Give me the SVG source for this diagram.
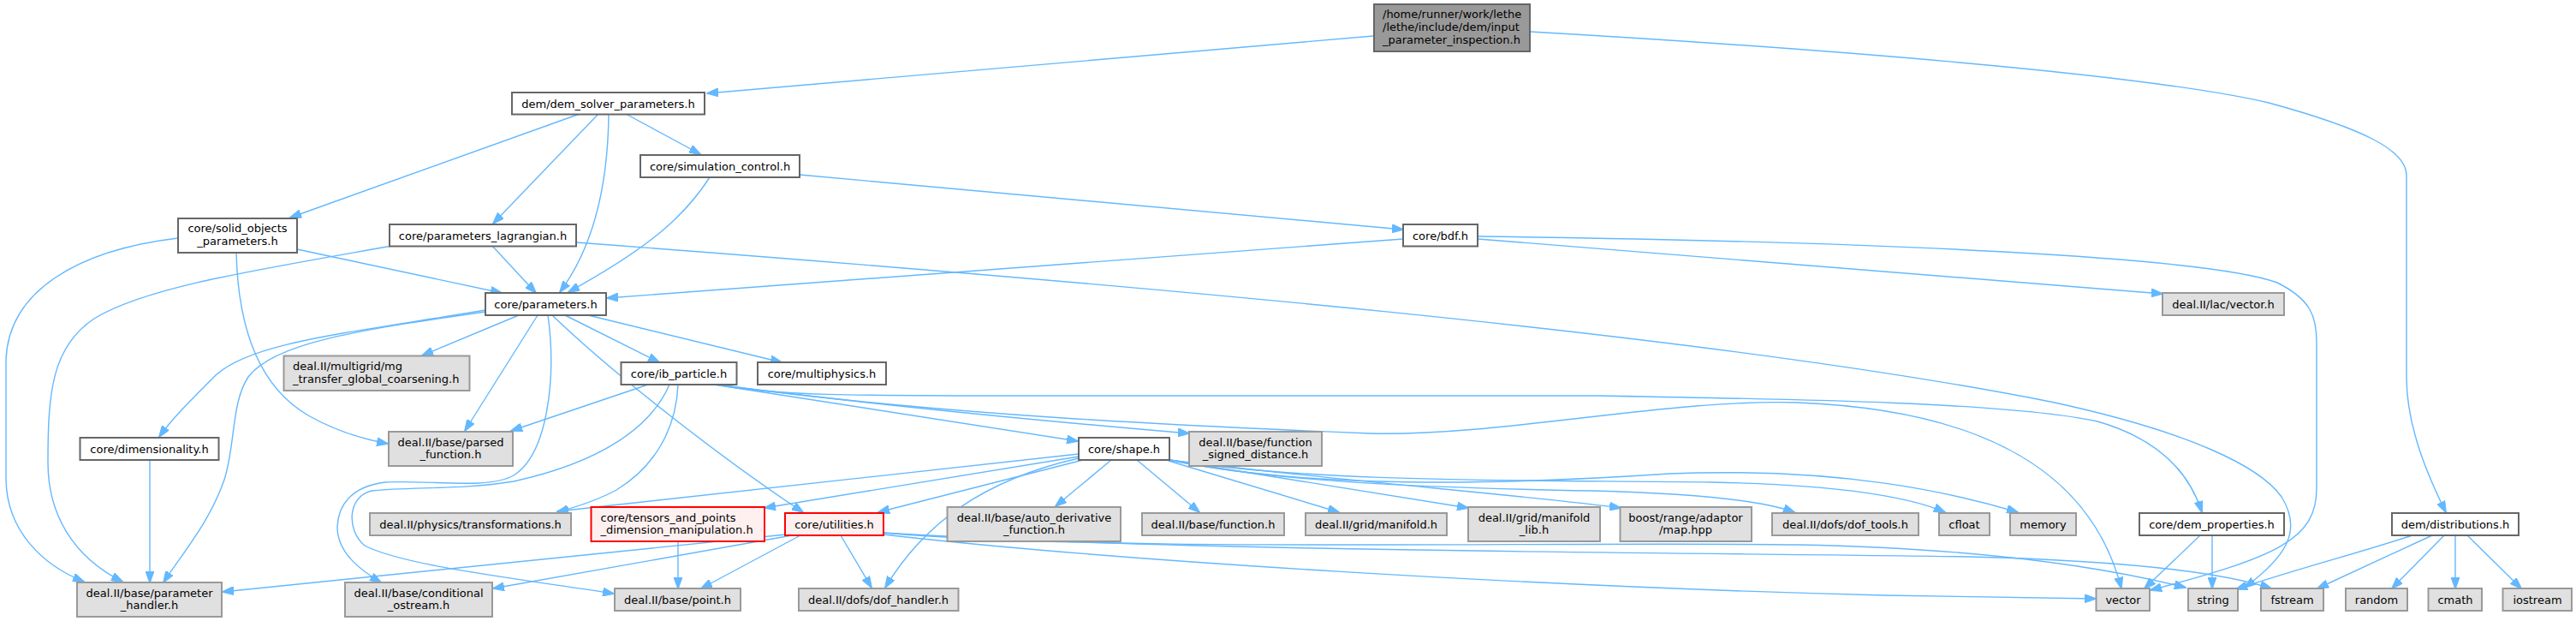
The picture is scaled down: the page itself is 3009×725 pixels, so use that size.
<svg xmlns="http://www.w3.org/2000/svg" width="3009" height="725" viewBox="0 0 3009 725">
<style>
  .bg { fill: #ffffff; }
  .n rect { fill: #ffffff; stroke: #666666; stroke-width: 2; }
  .g rect { fill: #e0e0e0; stroke: #999999; stroke-width: 2; }
  .r rect { fill: #fff0f0; stroke: #ff0000; stroke-width: 2; }
  .root rect { fill: #999999; stroke: #666666; stroke-width: 2; }
  text { font-family: "DejaVu Sans", "Liberation Sans", sans-serif; font-size: 13px; fill: #000000; text-anchor: middle; }
  text.l { text-anchor: start; }
  #edges path { fill: none; stroke: #63b8ff; stroke-width: 1.4; marker-end: url(#arr); }
</style>
<defs>
  <marker id="arr" viewBox="0 0 14 10" refX="13" refY="5" markerWidth="14" markerHeight="10" markerUnits="userSpaceOnUse" orient="auto">
    <path d="M0,0 L14,5 L0,10 z" fill="#63b8ff" stroke="#63b8ff" stroke-width="1"/>
  </marker>
</defs>
<rect class="bg" x="0" y="0" width="3009" height="725"/>

<g id="edges">
  <path d="M1604,42 L826,109"/>
  <path d="M1787,37 C2100,55 2500,85 2650,120 C2760,150 2811,175 2811,205 L2811,440 C2811,500 2838,560 2857,598"/>
  <path d="M677,133 L339,254"/>
  <path d="M699,133 L576,261"/>
  <path d="M711,134 C710,220 692,290 654,341"/>
  <path d="M731,133 L818,180"/>
  <path d="M208,278 C90,292 10,340 7,420 L7,560 C8,620 50,660 98,679"/>
  <path d="M276,295 C278,380 300,450 360,485 C390,502 420,512 453,518"/>
  <path d="M347,291 L586,342"/>
  <path d="M575,287 L626,342"/>
  <path d="M458,287 C300,315 170,335 110,372 C60,405 56,460 56,540 C56,600 85,650 143,679"/>
  <path d="M673,283 C1300,330 2000,390 2400,470 C2560,505 2640,545 2665,580 C2690,620 2670,650 2622,686"/>
  <path d="M829,207 C800,252 760,288 664,341"/>
  <path d="M934,204 L1639,268"/>
  <path d="M1639,279 L709,348"/>
  <path d="M1726,279 L2526,343"/>
  <path d="M1726,276 C2200,282 2580,300 2660,330 C2700,350 2706,370 2706,400 L2706,570 C2706,630 2660,650 2512,689"/>
  <path d="M567,362 C400,390 290,400 250,440 C220,470 200,490 186,510"/>
  <path d="M567,364 C420,385 320,400 290,440 C270,470 275,520 262,560 C245,610 210,650 191,680"/>
  <path d="M606,368 L493,415"/>
  <path d="M628,368 L543,503"/>
  <path d="M640,368 C650,440 640,530 600,555 C570,572 500,560 450,563 C410,568 395,590 394,615 C394,645 420,665 445,680"/>
  <path d="M645,368 C720,440 850,540 938,598"/>
  <path d="M660,368 L770,423"/>
  <path d="M683,367 L913,423"/>
  <path d="M175,537 L175,680"/>
  <path d="M757,449 L597,503"/>
  <path d="M792,449 C790,500 765,545 720,572 C700,583 680,590 651,598"/>
  <path d="M782,449 C760,500 700,540 600,562 C540,572 480,568 434,573 C405,580 405,620 426,637 C470,660 600,675 717,693"/>
  <path d="M834,449 L1259,515"/>
  <path d="M837,449 C1000,470 1200,490 1389,506"/>
  <path d="M837,449 C900,462 1000,462 1200,462 L1868,462 C2100,466 2350,470 2450,492 C2530,515 2560,560 2572,598"/>
  <path d="M837,449 C1100,485 1400,498 1600,506 C1750,510 1950,465 2100,470 C2300,478 2440,540 2478,687"/>
  <path d="M1260,530 L651,597"/>
  <path d="M1260,533 L893,593"/>
  <path d="M1265,537 L1026,598"/>
  <path d="M1260,535 C1150,560 1080,610 1034,686"/>
  <path d="M1298,537 L1233,591"/>
  <path d="M1328,537 L1401,598"/>
  <path d="M1365,538 L1564,598"/>
  <path d="M1366,537 L1715,593"/>
  <path d="M1366,537 C1550,560 1800,580 1893,593"/>
  <path d="M1366,537 C1500,565 1700,570 1860,573 C1980,576 2060,585 2096,598"/>
  <path d="M1366,537 C1550,565 1800,560 2000,563 C2150,566 2230,580 2272,598"/>
  <path d="M1366,537 C1500,565 1700,570 1950,553 C2150,545 2280,575 2357,598"/>
  <path d="M918,624 L260,691"/>
  <path d="M925,625 L576,687"/>
  <path d="M935,625 L819,687"/>
  <path d="M982,625 L1018,686"/>
  <path d="M1032,622 C1300,645 1800,632 2100,636 C2300,640 2450,660 2553,686"/>
  <path d="M1032,622 C1400,645 2000,645 2300,650 C2500,655 2600,670 2653,687"/>
  <path d="M1032,624 C1300,655 1800,685 2200,695 L2448,699"/>
  <path d="M792,632 L792,687"/>
  <path d="M2570,625 L2505,687"/>
  <path d="M2584,625 L2584,687"/>
  <path d="M2818,625 C2740,650 2680,665 2612,688"/>
  <path d="M2841,625 L2707,687"/>
  <path d="M2855,625 L2794,687"/>
  <path d="M2868,625 L2868,687"/>
  <path d="M2882,625 L2945,687"/>
</g>

<g id="node-root" class="root"><rect x="1605" y="5" width="182" height="55"/>
  <text class="l" x="1615" y="21">/home/runner/work/lethe</text>
  <text class="l" x="1615" y="36">/lethe/include/dem/input</text>
  <text class="l" x="1615" y="50.5">_parameter_inspection.h</text></g>
<g id="node-dem-solver-parameters" class="n"><rect x="598" y="108" width="225" height="25.5"/><text x="710.5" y="125.5">dem/dem_solver_parameters.h</text></g>
<g id="node-solid-objects" class="n"><rect x="208" y="255" width="139" height="40"/><text x="277.5" y="271">core/solid_objects</text><text x="277.5" y="285.5">_parameters.h</text></g>
<g id="node-parameters-lagrangian" class="n"><rect x="455" y="262" width="218" height="25.5"/><text x="564" y="279.5">core/parameters_lagrangian.h</text></g>
<g id="node-parameters" class="n"><rect x="567" y="342" width="141" height="26"/><text x="637.5" y="359.5">core/parameters.h</text></g>
<g id="node-simulation-control" class="n"><rect x="748" y="181" width="186" height="26"/><text x="841" y="198.5">core/simulation_control.h</text></g>
<g id="node-bdf" class="n"><rect x="1639" y="262" width="87" height="25.5"/><text x="1682.5" y="279.5">core/bdf.h</text></g>
<g id="node-lac-vector" class="g"><rect x="2526" y="342" width="142" height="26"/><text x="2597" y="359.5">deal.II/lac/vector.h</text></g>
<g id="node-mg-transfer" class="g"><rect x="331.5" y="415.5" width="217" height="40.5"/><text class="l" x="342" y="432">deal.II/multigrid/mg</text><text class="l" x="342" y="446.5">_transfer_global_coarsening.h</text></g>
<g id="node-parsed-function" class="g"><rect x="454" y="504" width="145" height="40"/><text x="526.5" y="520.5">deal.II/base/parsed</text><text x="526.5" y="535">_function.h</text></g>
<g id="node-dimensionality" class="n"><rect x="93.5" y="511" width="162" height="26"/><text x="174.5" y="528.5">core/dimensionality.h</text></g>
<g id="node-ib-particle" class="n"><rect x="725.5" y="423" width="135" height="26"/><text x="793" y="440.5">core/ib_particle.h</text></g>
<g id="node-multiphysics" class="n"><rect x="885" y="423" width="150" height="26"/><text x="960" y="440.5">core/multiphysics.h</text></g>
<g id="node-shape" class="n"><rect x="1260" y="511" width="106" height="26"/><text x="1313" y="528.5">core/shape.h</text></g>
<g id="node-signed-distance" class="g"><rect x="1389" y="504" width="155" height="40"/><text x="1466.5" y="520.5">deal.II/base/function</text><text x="1466.5" y="535">_signed_distance.h</text></g>
<g id="node-transformations" class="g"><rect x="432" y="599" width="235" height="26"/><text x="549.5" y="616.5">deal.II/physics/transformations.h</text></g>
<g id="node-tensors" class="r"><rect x="690.5" y="592" width="202.5" height="40"/><text class="l" x="701.5" y="608.5">core/tensors_and_points</text><text class="l" x="701.5" y="623">_dimension_manipulation.h</text></g>
<g id="node-utilities" class="r"><rect x="917" y="599" width="115" height="26"/><text x="974.5" y="616.5">core/utilities.h</text></g>
<g id="node-auto-derivative" class="g"><rect x="1106.5" y="592" width="202.5" height="40"/><text x="1208" y="608.5">deal.II/base/auto_derivative</text><text x="1208" y="623">_function.h</text></g>
<g id="node-function" class="g"><rect x="1334" y="599" width="166" height="26"/><text x="1417" y="616.5">deal.II/base/function.h</text></g>
<g id="node-manifold" class="g"><rect x="1525" y="599" width="165" height="26"/><text x="1607.5" y="616.5">deal.II/grid/manifold.h</text></g>
<g id="node-manifold-lib" class="g"><rect x="1715" y="592" width="154" height="40"/><text x="1792" y="608.5">deal.II/grid/manifold</text><text x="1792" y="623">_lib.h</text></g>
<g id="node-map-hpp" class="g"><rect x="1892.5" y="592" width="153.5" height="40"/><text x="1969" y="608.5">boost/range/adaptor</text><text x="1969" y="623">/map.hpp</text></g>
<g id="node-dof-tools" class="g"><rect x="2070" y="599" width="171" height="26"/><text x="2155.5" y="616.5">deal.II/dofs/dof_tools.h</text></g>
<g id="node-cfloat" class="g"><rect x="2265" y="599" width="59" height="26"/><text x="2294.5" y="616.5">cfloat</text></g>
<g id="node-memory" class="g"><rect x="2348" y="599" width="77" height="26"/><text x="2386.5" y="616.5">memory</text></g>
<g id="node-dem-properties" class="n"><rect x="2499" y="599" width="169" height="26"/><text x="2583.5" y="616.5">core/dem_properties.h</text></g>
<g id="node-distributions" class="n"><rect x="2794" y="599" width="148" height="26"/><text x="2868" y="616.5">dem/distributions.h</text></g>
<g id="node-parameter-handler" class="g"><rect x="90" y="680" width="169" height="40"/><text x="174.5" y="696.5">deal.II/base/parameter</text><text x="174.5" y="711">_handler.h</text></g>
<g id="node-conditional-ostream" class="g"><rect x="403" y="680" width="172" height="40"/><text x="489" y="696.5">deal.II/base/conditional</text><text x="489" y="711">_ostream.h</text></g>
<g id="node-point" class="g"><rect x="718" y="687" width="147" height="26"/><text x="791.5" y="704.5">deal.II/base/point.h</text></g>
<g id="node-dof-handler" class="g"><rect x="933" y="687" width="186.5" height="26"/><text x="1026" y="704.5">deal.II/dofs/dof_handler.h</text></g>
<g id="node-vector" class="g"><rect x="2448.5" y="687" width="62.5" height="26"/><text x="2480" y="704.5">vector</text></g>
<g id="node-string" class="g"><rect x="2556" y="687" width="58" height="26"/><text x="2585" y="704.5">string</text></g>
<g id="node-fstream" class="g"><rect x="2641" y="687" width="73" height="26"/><text x="2677.5" y="704.5">fstream</text></g>
<g id="node-random" class="g"><rect x="2740" y="687" width="72" height="26"/><text x="2776" y="704.5">random</text></g>
<g id="node-cmath" class="g"><rect x="2836.5" y="687" width="62.5" height="26"/><text x="2868" y="704.5">cmath</text></g>
<g id="node-iostream" class="g"><rect x="2923.5" y="687" width="80.5" height="26"/><text x="2964" y="704.5">iostream</text></g>
</svg>
